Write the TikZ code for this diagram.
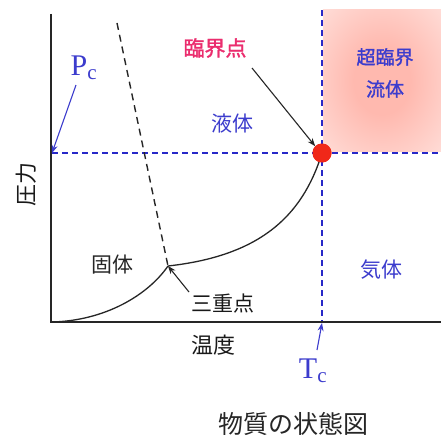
\documentclass[tikz,border=0pt]{standalone}
\usepackage{fontspec}
\newfontfamily\jp{Noto Sans CJK JP}
\newfontfamily\jpb[FakeBold=1.5]{Noto Sans CJK JP}
\newfontfamily\serifm{Liberation Serif}
\usetikzlibrary{arrows.meta}
\definecolor{lblue}{RGB}{60,60,205}
\definecolor{dblue}{RGB}{40,40,200}
\definecolor{magen}{RGB}{235,45,110}
\definecolor{dotred}{RGB}{240,40,25}
\definecolor{pinkc}{RGB}{255,185,175}
\definecolor{pinke}{RGB}{255,238,235}
\pgfdeclareradialshading{pinkglow}{\pgfpoint{0bp}{0bp}}{color(0bp)=(pinkc); color(12bp)=(pinkc); color(48bp)=(pinke); color(60bp)=(white); color(80bp)=(white)}
\tikzset{
  lbl/.style={font=\jp\fontsize{21}{21}\selectfont, inner sep=0pt},
  blbl/.style={lbl, text=lblue},
  axis/.style={line width=1.5pt, black!85},
  bdash/.style={dblue, line width=1.2pt, dash pattern=on 6pt off 4pt},
  kdash/.style={black!85, line width=1.4pt, dash pattern=on 7pt off 5pt},
  curve/.style={black!85, line width=1.3pt},
  arr/.style={-{Stealth[length=8pt,width=6pt]}, line width=1.1pt},
}
\begin{document}
\begin{tikzpicture}[x=1pt,y=-1pt]
\useasboundingbox (0,0) rectangle (441,436);
\fill[white] (0,0) rectangle (441,436);
% supercritical glow
\shade[shading=pinkglow] (323,10) rectangle (441,151);

% named points
\coordinate (O) at (51,322);
\coordinate (ytop) at (51,14);
\coordinate (xend) at (441,322);
\coordinate (pcy) at (52,153);
\coordinate (hend) at (441,153);
\coordinate (tctop) at (322,10);
\coordinate (tcx) at (322,323);
\coordinate (tp) at (168,266);
\coordinate (mtop) at (117,23);
\node[circle, fill=dotred, minimum size=19pt, inner sep=0pt] (cp) at (322,153) {};

% dashed critical lines
\draw[bdash] (pcy) -- (hend);
\draw[bdash] (tctop) -- (tcx);

% axes
\draw[axis] (ytop) -- (O) -- (xend);

% melting line
\draw[kdash] (mtop) -- (tp);

% sublimation and vaporization curves
\draw[curve] (O) .. controls (105,321) and (148,295) .. (tp);
\draw[curve] (tp) .. controls (258,256) and (302,218) .. (cp.center);
\node[circle, fill=dotred, minimum size=19pt, inner sep=0pt] at (cp) {};

% labels
\node[lbl, text=magen, font=\jpb\fontsize{21}{21}\selectfont] (cpl) at (215,48) {臨界点};
\node[blbl] (liq) at (232,124) {液体};
\node[blbl, font=\jpb\fontsize{19}{19}\selectfont] (sc1) at (385,57) {超臨界};
\node[blbl, font=\jpb\fontsize{19}{19}\selectfont] (sc2) at (385,89) {流体};
\node[blbl] (gas) at (381,270) {気体};
\node[lbl, text=black!85] (sol) at (112,265) {固体};
\node[lbl, text=black!90] (tpl) at (223,304) {三重点};
\node[lbl, text=black!90, font=\jp\fontsize{22}{22}\selectfont] (xl) at (213,345) {温度};
\node[lbl, text=black!90, font=\jp\fontsize{22}{22}\selectfont, rotate=90] (yl) at (26,184) {圧力};
\node[lbl, text=black!85, font=\jp\fontsize{25}{25}\selectfont] (title) at (293,424) {物質の状態図};
\node[text=lblue, font=\serifm\fontsize{30}{30}\selectfont, inner sep=0pt] (pc) at (84,68) {P\textsubscript{c}};
\node[text=lblue, font=\serifm\fontsize{30}{30}\selectfont, inner sep=0pt] (tc) at (313,371) {T\textsubscript{c}};

% arrows
\coordinate (pcs) at (76,85);
\draw[arr, lblue] (pcs) -- (pcy);
\coordinate (tcs) at (317,350);
\draw[arr, lblue] (tcs) -- (tcx);
\coordinate (cps) at (252,68);
\draw[arr, black!85] (cps) -- (cp.north west);
\coordinate (tps) at (189,292);
\draw[arr, black!85] (tps) -- (tp);
\end{tikzpicture}
\end{document}
